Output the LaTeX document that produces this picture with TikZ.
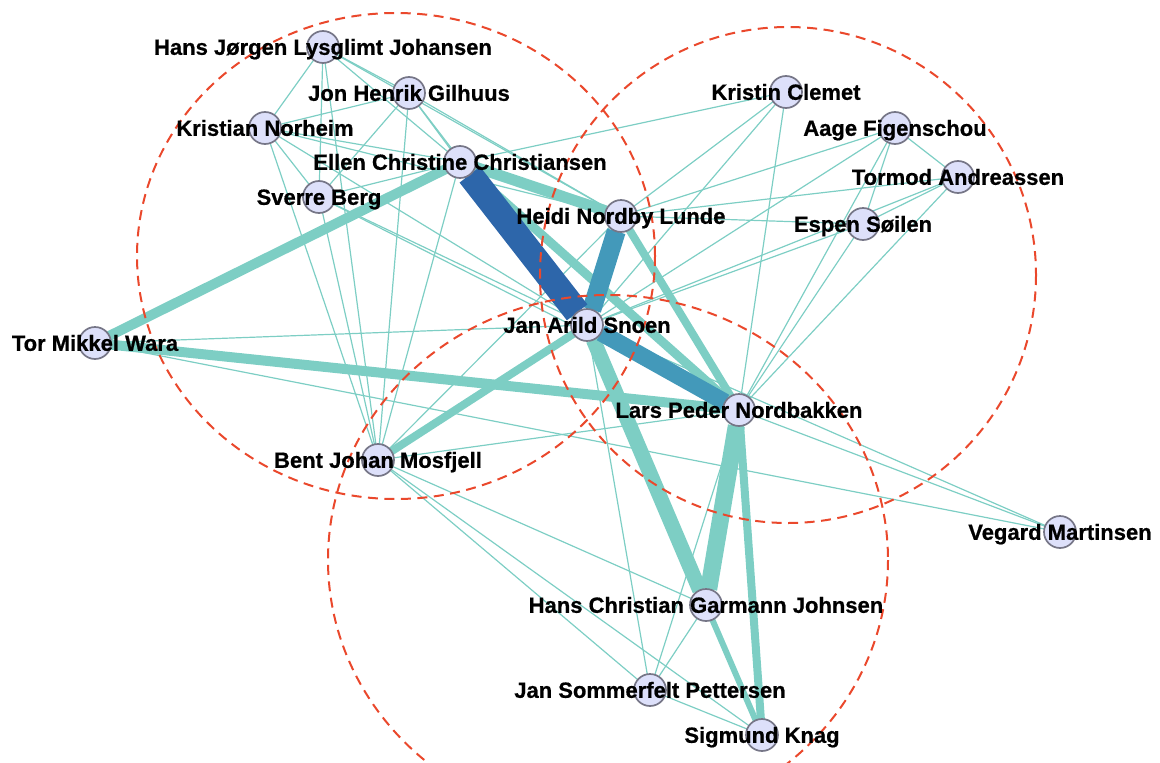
\documentclass[tikz,border=0pt]{standalone}
\usepackage{fontspec}
\setmainfont{Liberation Sans}
\newfontfamily\lblfont{Liberation Sans Bold}[FakeBold=0.7]
\definecolor{edgeteal}{RGB}{125,206,196}
\definecolor{darkblue}{RGB}{45,102,170}
\definecolor{midblue}{RGB}{67,153,186}
\definecolor{nodefill}{RGB}{221,224,250}
\definecolor{nodeborder}{RGB}{118,118,135}
\definecolor{grpred}{RGB}{234,72,44}
\pgfdeclarelayer{edgelayer}
\pgfdeclarelayer{grouplayer}
\pgfsetlayers{edgelayer,grouplayer,main}
\begin{document}
\begin{tikzpicture}[x=1pt,y=-1pt,
  thinedge/.style={draw=edgeteal, line width=1.2pt},
  wedge/.style={draw=edgeteal, line width=#1},
  pnode/.style={circle, minimum size=32pt, inner sep=0pt, outer sep=0pt, fill=nodefill, draw=nodeborder, line width=1.7pt},
  plabel/.style={anchor=base, font=\lblfont\fontsize{22}{25}\selectfont, inner sep=0pt, text=black},
  grp/.style={draw=grpred, line width=2pt, dash pattern=on 10pt off 6.5pt}]
\useasboundingbox (0,0) rectangle (1160,763);
% nodes
\foreach \id/\x/\y in {HJ/323/47, JH/409/93, KN/265/128, EC/460/162, SB/319/197,
  KC/786/92, AF/895/128, TA/958/177, ES/863/224, HN/621/216, JA/587/325,
  TM/95/343, LP/739/410, BJ/378/460, VM/1060/532, HC/706/605, JS/650/690, SK/762/735}
  {\node[pnode] (\id) at (\x,\y) {};}
% labels
\foreach \id/\txt in {HJ/Hans Jørgen Lysglimt Johansen, JH/Jon Henrik Gilhuus, KN/Kristian Norheim,
  EC/Ellen Christine Christiansen, SB/Sverre Berg, KC/Kristin Clemet, AF/Aage Figenschou,
  TA/Tormod Andreassen, ES/Espen Søilen, HN/Heidi Nordby Lunde, JA/Jan Arild Snoen,
  TM/Tor Mikkel Wara, LP/Lars Peder Nordbakken, BJ/Bent Johan Mosfjell, VM/Vegard Martinsen,
  HC/Hans Christian Garmann Johnsen, JS/Jan Sommerfelt Pettersen, SK/Sigmund Knag}
  {\node[plabel] (l\id) at ([yshift=-7.8pt]\id.center) {\txt};}
% group circles
\begin{pgfonlayer}{grouplayer}
\draw[grp] (396,256) ellipse [x radius=259, y radius=243];
\draw[grp] (788,275) circle [radius=248];
\draw[grp] (608,560) ellipse [x radius=280, y radius=265];
\end{pgfonlayer}
% edges
\begin{pgfonlayer}{edgelayer}
\foreach \a/\b in {HJ/KN, HJ/SB, HJ/BJ, HJ/JH, HJ/EC, HJ/HN,
  JH/KN, JH/EC, JH/SB, JH/BJ, JH/HN, JH/JA,
  KN/EC, KN/SB, KN/BJ, KN/HN, KN/JA,
  EC/KC, EC/SB, EC/BJ,
  SB/BJ, SB/JA, SB/LP,
  HN/KC, HN/AF, HN/TA, HN/ES, HN/BJ,
  JA/KC, JA/AF, JA/TA, JA/ES, JA/VM, JA/JS, TM/JA,
  LP/KC, LP/AF, LP/ES, LP/TA, LP/VM, LP/BJ, LP/JS,
  AF/TA, AF/ES, TA/ES, TM/VM,
  BJ/HC, BJ/JS, BJ/SK, HC/JS, JS/SK}
  {\draw[thinedge] (\a) -- (\b);}
\draw[wedge=10pt] (EC) -- (TM);
\draw[wedge=10pt] (TM) -- (LP);
\draw[wedge=11pt] (EC) -- (HN);
\draw[wedge=9pt] (EC) -- (LP);
\draw[wedge=8pt] (HN) -- (LP);
\draw[wedge=8pt] (JA) -- (BJ);
\draw[wedge=15pt] (JA) -- (HC);
\draw[wedge=6pt] (HC) -- (SK);
\draw[wedge=17pt] (LP) -- (HC);
\draw[wedge=8pt] (LP) -- (SK);
\draw[draw=midblue, line width=17pt] (JA) -- (LP);
\draw[draw=midblue, line width=19pt] (HN) -- (JA);
\draw[draw=darkblue, line width=26pt] (EC) -- (JA);
\end{pgfonlayer}
\end{tikzpicture}
\end{document}
